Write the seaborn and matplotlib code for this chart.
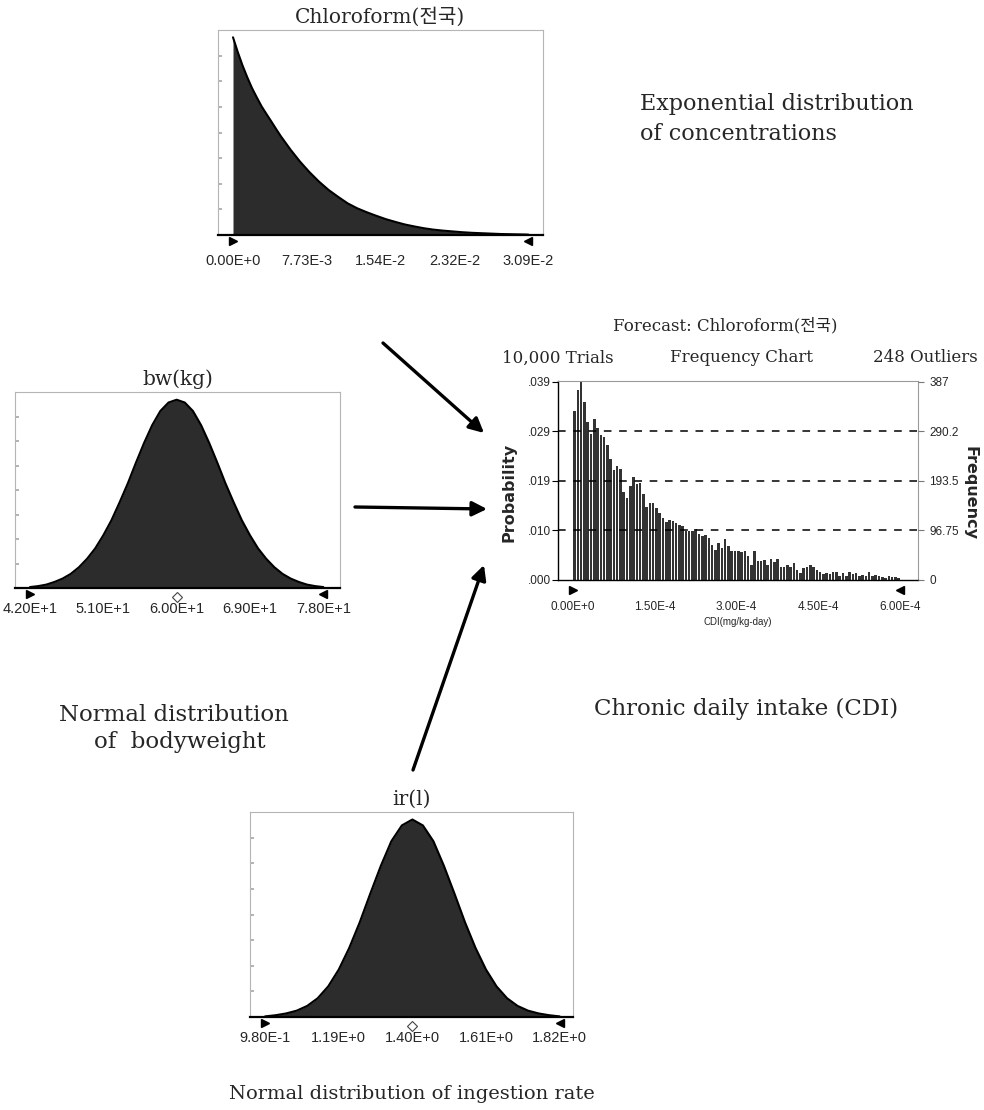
import numpy as np
import pandas as pd
import matplotlib
matplotlib.use('Agg')
import matplotlib.pyplot as plt
import seaborn as sns

# --- input: chloroform concentration (exponential), relative curve height
conc_x = [0, 0.0005, 0.001, 0.0015, 0.002, 0.0025, 0.003, 0.0035, 0.004, 0.0045,
          0.005, 0.006, 0.007, 0.008, 0.009, 0.010, 0.011, 0.012, 0.013, 0.014,
          0.015, 0.016, 0.017, 0.018, 0.019, 0.020, 0.021, 0.022, 0.023, 0.024,
          0.025, 0.026, 0.027, 0.028, 0.029, 0.030, 0.0309]
conc_h = [1.0, 0.925, 0.857, 0.797, 0.742, 0.695, 0.65, 0.612, 0.575, 0.537,
          0.5, 0.433, 0.372, 0.318, 0.27, 0.228, 0.193, 0.16, 0.135, 0.115,
          0.097, 0.08, 0.066, 0.053, 0.043, 0.034, 0.027, 0.022, 0.018, 0.014,
          0.011, 0.009, 0.007, 0.005, 0.004, 0.003, 0.002]
conc_ticks = [0, 7.73e-3, 1.54e-2, 2.32e-2, 3.09e-2]
conc_labels = ['0.00E+0', '7.73E-3', '1.54E-2', '2.32E-2', '3.09E-2']

# --- input: body weight (normal)
bw_x = [42, 43, 44, 45, 46, 47, 48, 49, 50, 51, 52, 53, 54, 55, 56, 57, 58, 59, 60,
        61, 62, 63, 64, 65, 66, 67, 68, 69, 70, 71, 72, 73, 74, 75, 76, 77, 78]
bw_h = [0.005, 0.01, 0.018, 0.032, 0.05, 0.075, 0.11, 0.155, 0.21, 0.28, 0.36,
        0.455, 0.555, 0.665, 0.77, 0.865, 0.94, 0.985, 1.0,
        0.985, 0.94, 0.865, 0.77, 0.665, 0.555, 0.455, 0.36, 0.28, 0.21, 0.155,
        0.11, 0.075, 0.05, 0.032, 0.018, 0.01, 0.005]
bw_ticks = [42, 51, 60, 69, 78]
bw_labels = ['4.20E+1', '5.10E+1', '6.00E+1', '6.90E+1', '7.80E+1']

# --- input: ingestion rate (normal)
ir_x = [0.98, 1.01, 1.04, 1.07, 1.10, 1.13, 1.16, 1.19, 1.22, 1.25, 1.28, 1.31,
        1.34, 1.37, 1.40, 1.43, 1.46, 1.49, 1.52, 1.55, 1.58, 1.61, 1.64, 1.67,
        1.70, 1.73, 1.76, 1.79, 1.82]
ir_h = [0.003, 0.009, 0.018, 0.032, 0.056, 0.095, 0.155, 0.24, 0.35, 0.48, 0.625,
        0.765, 0.89, 0.97, 1.0, 0.97, 0.89, 0.765, 0.625, 0.48, 0.35, 0.24, 0.155,
        0.095, 0.056, 0.032, 0.018, 0.009, 0.003]
ir_ticks = [0.98, 1.19, 1.40, 1.61, 1.82]
ir_labels = ['9.80E-1', '1.19E+0', '1.40E+0', '1.61E+0', '1.82E+0']

# --- forecast: CDI frequency chart (10,000 trials, 100 bins over 0..6E-4)
cdi_range = (0.0, 6.0e-4)
cdi_freq = [329, 371, 387, 348, 308, 285, 315, 297, 282, 279,
            264, 236, 215, 222, 216, 171, 159, 184, 200, 187,
            190, 167, 143, 151, 150, 141, 131, 121, 113, 118,
            115, 112, 108, 106, 96, 95, 95, 100, 89, 85,
            87, 82, 69, 59, 72, 62, 79, 66, 56, 56,
            56, 54, 56, 47, 30, 56, 38, 38, 39, 30,
            41, 36, 41, 25, 25, 30, 26, 33, 20, 13,
            23, 25, 30, 26, 20, 16, 12, 13, 12, 16,
            16, 8, 13, 7, 16, 12, 13, 7, 10, 7,
            16, 7, 10, 8, 5, 3, 7, 5, 5, 3]
n_trials = 10000
freq_ticks = [0, 96.75, 193.5, 290.2, 387]
freq_labels = ['0', '96.75', '193.5', '290.2', '387']
prob_labels = ['.000', '.010', '.019', '.029', '.039']
cdi_ticks = [0, 1.5e-4, 3.0e-4, 4.5e-4, 6.0e-4]
cdi_labels = ['0.00E+0', '1.50E-4', '3.00E-4', '4.50E-4', '6.00E-4']

W, H = 984, 1110
sns.set_theme(style='white')
plt.rcParams['font.family'] = ['DejaVu Serif', 'Noto Sans CJK KR']
SERIF = ['DejaVu Serif', 'Noto Sans CJK KR']
SANS = 'Liberation Sans'

fig = plt.figure(figsize=(W / 100, H / 100), dpi=100)
fig.patch.set_facecolor('white')


def px_axes(left, top, right, bottom):
    return fig.add_axes([left / W, 1 - bottom / H, (right - left) / W, (bottom - top) / H])


def fpos(x, y):
    return (x / W, 1 - y / H)


FILL = '#2c2c2c'


def assumption_panel(ax, xs, hs, ticks, labels, xlim, title, top_ratio, pad, center=None):
    sns.lineplot(x=xs, y=hs, ax=ax, color='black', lw=1.5, sort=False)
    ax.fill_between(xs, hs, color=FILL, lw=0)
    ax.set_xlim(*xlim)
    ax.set_ylim(0, max(hs) * top_ratio)
    ax.set_xticks(ticks)
    ax.set_xticklabels(labels, fontsize=10.5, family=SANS)
    ax.tick_params(axis='x', length=0, pad=pad)
    ax.set_yticks(np.linspace(0, max(hs) * top_ratio, 9)[1:-1])
    ax.set_yticklabels([])
    ax.tick_params(axis='y', direction='in', length=3, color='#aaaaaa', left=True)
    for s in ['top', 'right', 'left']:
        ax.spines[s].set_color('#b5b5b5')
        ax.spines[s].set_linewidth(0.8)
    ax.spines['bottom'].set_color('black')
    ax.spines['bottom'].set_linewidth(1.6)
    ax.set_title(title, fontsize=14.5, family=SERIF, pad=5)
    tr = ax.get_xaxis_transform()
    ax.plot([ticks[0]], [-0.03], marker='>', ms=6, color='black', transform=tr, clip_on=False)
    ax.plot([ticks[-1]], [-0.03], marker='<', ms=6, color='black', transform=tr, clip_on=False)
    if center is not None:
        ax.plot([center], [-0.045], marker='D', ms=5, mfc='white', mec='#444444', mew=0.8,
                transform=tr, clip_on=False)


# --- top: concentration
ax_c = px_axes(218, 30, 543, 235)
assumption_panel(ax_c, conc_x, conc_h, conc_ticks, conc_labels, (-0.00157, 0.03244),
                 'Chloroform(전국)', 1.037, 14)

# --- left: body weight
ax_b = px_axes(15, 392, 340, 588)
assumption_panel(ax_b, bw_x, bw_h, bw_ticks, bw_labels, (40.16, 80.05),
                 'bw(kg)', 1.041, 10, center=60)

# --- bottom: ingestion rate
ax_i = px_axes(250, 812, 573, 1017)
assumption_panel(ax_i, ir_x, ir_h, ir_ticks, ir_labels, (0.937, 1.858),
                 'ir(l)', 1.038, 10, center=1.40)

# --- forecast frequency chart
ax_f = px_axes(558, 381, 918, 580)
n_bins = len(cdi_freq)
bin_w = (cdi_range[1] - cdi_range[0]) / n_bins
cdi_df = pd.DataFrame({'cdi': cdi_range[0] + bin_w * (np.arange(n_bins) + 0.5),
                       'prob': np.array(cdi_freq) / n_trials})
sns.histplot(data=cdi_df, x='cdi', weights='prob', bins=n_bins, binrange=cdi_range,
             ax=ax_f, color='#333333', edgecolor='none', linewidth=0,
             shrink=0.76, alpha=1)
top_p = freq_ticks[-1] / n_trials
ax_f.set_ylim(0, top_p * 1.003)
ax_f.set_xlim(-2.75e-5, 6.325e-4)
ax_f.set_ylabel('')
ax_f.set_yticks([t / n_trials for t in freq_ticks])
ax_f.set_yticklabels(prob_labels, fontsize=8.5, family=SANS)
ax_f.set_xticks(cdi_ticks)
ax_f.set_xticklabels(cdi_labels, fontsize=8.5, family=SANS)
ax_f.tick_params(axis='x', length=0, pad=15)
ax_f.tick_params(axis='y', length=4, width=0.8, color='black', left=True, pad=1)
for t in freq_ticks[1:-1]:
    ax_f.axhline(t / n_trials, color='black', lw=1.1, ls=(0, (5, 5)), zorder=3)
for s in ['top', 'right']:
    ax_f.spines[s].set_color('#9a9a9a')
    ax_f.spines[s].set_linewidth(0.8)
ax_f.spines['left'].set_color('black')
ax_f.spines['bottom'].set_color('black')
ax_f.spines['left'].set_linewidth(1.0)
ax_f.spines['bottom'].set_linewidth(1.0)
ax_f.set_xlabel('CDI(mg/kg-day)', fontsize=7, family=SANS, labelpad=3)
trf = ax_f.get_xaxis_transform()
ax_f.plot([0], [-0.05], marker='>', ms=6, color='black', transform=trf, clip_on=False)
ax_f.plot([6e-4], [-0.05], marker='<', ms=6, color='black', transform=trf, clip_on=False)

ax_f2 = ax_f.twinx()
ax_f2.set_ylim(0, freq_ticks[-1] * 1.003)
ax_f2.set_yticks(freq_ticks)
ax_f2.set_yticklabels(freq_labels, fontsize=8.5, family=SANS)
ax_f2.tick_params(axis='y', length=4, width=0.8, color='#777777', right=True, pad=4)
for s in ax_f2.spines.values():
    s.set_visible(False)
ax_f2.grid(False)

# chart header and axis names
fig.text(*fpos(725, 326), 'Forecast: Chloroform(전국)', fontsize=12, family=SERIF,
         ha='center', va='center')
fig.text(*fpos(502, 358), '10,000 Trials', fontsize=12, family=SERIF, ha='left', va='center')
fig.text(*fpos(742, 358), 'Frequency Chart', fontsize=12, family=SERIF, ha='center', va='center')
fig.text(*fpos(978, 358), '248 Outliers', fontsize=12, family=SERIF, ha='right', va='center')
fig.text(*fpos(509, 492), 'Probability', fontsize=11.5, family='DejaVu Sans', weight='bold',
         rotation=90, ha='center', va='center')
fig.text(*fpos(970, 493), 'Frequency', fontsize=11.5, family='DejaVu Sans', weight='bold',
         rotation=-90, ha='center', va='center')

# captions
fig.text(*fpos(640, 104), 'Exponential distribution', fontsize=16, family=SERIF, ha='left', va='center')
fig.text(*fpos(640, 134), 'of concentrations', fontsize=16, family=SERIF, ha='left', va='center')
fig.text(*fpos(174, 715), 'Normal distribution', fontsize=16.5, family=SERIF, ha='center', va='center')
fig.text(*fpos(180, 742), 'of  bodyweight', fontsize=16.5, family=SERIF, ha='center', va='center')
fig.text(*fpos(746, 709), 'Chronic daily intake (CDI)', fontsize=16.5, family=SERIF,
         ha='center', va='center')
fig.text(*fpos(412, 1094), 'Normal distribution of ingestion rate', fontsize=14, family=SERIF,
         ha='center', va='center')

# arrows into the forecast
arrow_kw = dict(arrowstyle='-|>', lw=2.4, color='black', mutation_scale=22,
                shrinkA=0, shrinkB=0)
for tail, tip in [((383, 343), (484, 433)), ((355, 507), (487, 509)), ((413, 770), (484, 565))]:
    fig.add_artist(matplotlib.patches.FancyArrowPatch(
        fpos(*tail), fpos(*tip), transform=fig.transFigure, **arrow_kw))

fig.savefig('out.png', dpi=100)
